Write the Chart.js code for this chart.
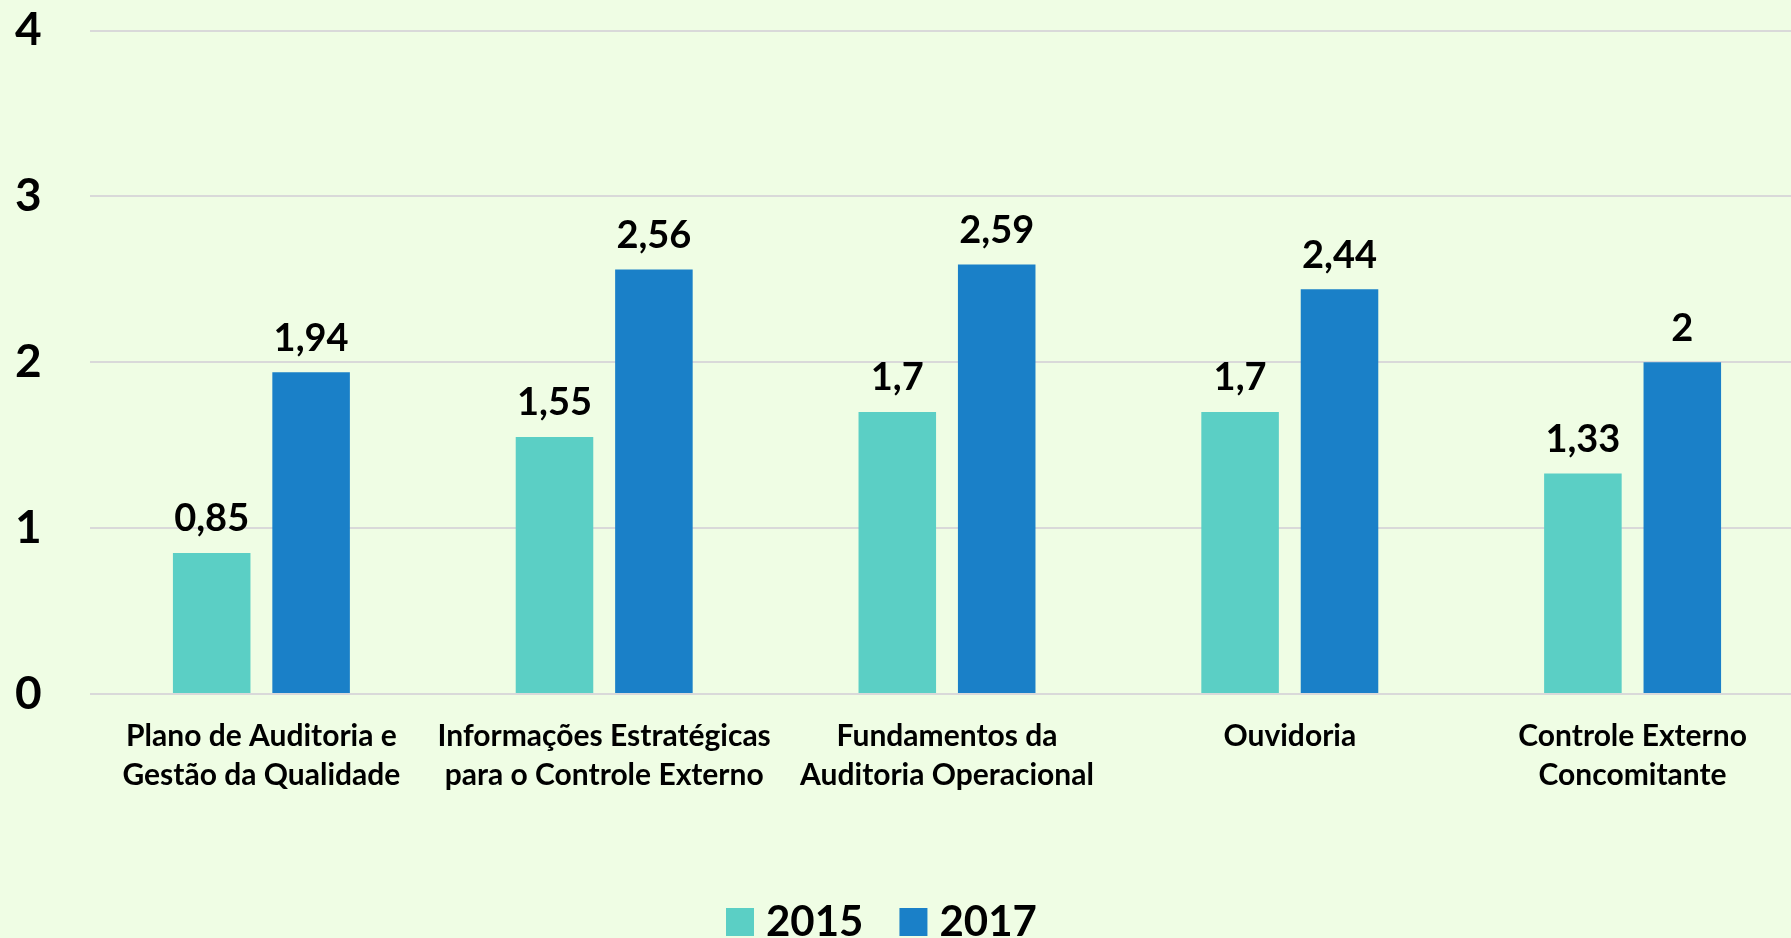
<!DOCTYPE html>
<html>
<head>
<meta charset="utf-8">
<script src="https://cdn.jsdelivr.net/npm/chart.js@4/dist/chart.umd.min.js"></script>
<style>
  html, body { margin: 0; padding: 0; background: #effde4; overflow: hidden; }
  #wrap { width: 1804px; height: 938px; position: relative; }
</style>
</head>
<body>
<div id="wrap"><canvas id="chart"></canvas></div>
<script>
const categories = [
    ['Plano de Auditoria e', 'Gestão da Qualidade'],
    ['Informações Estratégicas', 'para o Controle Externo'],
    ['Fundamentos da', 'Auditoria Operacional'],
    ['Ouvidoria'],
    ['Controle Externo', 'Concomitante']
];
const values2015 = [0.85, 1.55, 1.7, 1.7, 1.33];
const values2017 = [1.94, 2.56, 2.59, 2.44, 2];
const yTicks = [0, 1, 2, 3, 4];

const FONT = 'Lato, "Open Sans", sans-serif';

// draws the value over each bar, using the bar elements' own positions
const valueLabels = {
    id: 'valueLabels',
    afterDatasetsDraw(chart) {
        const ctx = chart.ctx;
        ctx.save();
        ctx.font = 'bold 38px ' + FONT;
        ctx.fillStyle = '#000';
        ctx.textAlign = 'center';
        ctx.textBaseline = 'middle';
        chart.data.datasets.forEach((ds, i) => {
            chart.getDatasetMeta(i).data.forEach((bar, j) => {
                const txt = String(ds.data[j]).replace('.', ',');
                ctx.fillText(txt, bar.x, bar.y - 34);
            });
        });
        ctx.restore();
    }
};

// legend at the bottom, tighter box/text gap than the built-in one
const bottomLegend = {
    id: 'bottomLegend',
    afterDraw(chart) {
        const ctx = chart.ctx;
        ctx.save();
        ctx.font = 'bold 42px ' + FONT;
        ctx.textBaseline = 'middle';
        ctx.textAlign = 'left';
        let x = 726;
        const y = 922;
        chart.data.datasets.forEach(ds => {
            ctx.fillStyle = ds.backgroundColor;
            ctx.fillRect(x, y - 14, 28, 28);
            ctx.fillStyle = '#000';
            ctx.fillText(ds.label, x + 40, y);
            x += 40 + ctx.measureText(ds.label).width + 36;
        });
        ctx.restore();
    }
};

const ctx = document.getElementById('chart').getContext('2d');
const chart = new Chart(ctx, {
    type: 'bar',
    data: {
        labels: categories,
        datasets: [{
            label: '2015',
            data: values2015,
            backgroundColor: '#5bcfc5',
            categoryPercentage: 0.58,
            barPercentage: 0.78
        }, {
            label: '2017',
            data: values2017,
            backgroundColor: '#1a80c8',
            categoryPercentage: 0.58,
            barPercentage: 0.78
        }]
    },
    options: {
        responsive: true,
        maintainAspectRatio: false,
        animation: false,
        layout: { padding: { left: 15, top: 14, right: 0, bottom: 55 } },
        plugins: {
            tooltip: { enabled: false },
            legend: { display: false }
        },
        scales: {
            x: {
                grid: { display: false },
                border: { display: false },
                afterFit(scale) {
                    scale.height = 189;
                },
                ticks: {
                    color: '#000',
                    font: { family: FONT, size: 30, weight: 'bold', lineHeight: 1.3 },
                    padding: 15,
                    maxRotation: 0
                }
            },
            y: {
                min: 0,
                max: 4,
                afterBuildTicks(scale) {
                    scale.ticks = yTicks.map(v => ({ value: v }));
                },
                afterFit(scale) {
                    scale.width = 75;
                },
                grid: { color: '#d9d9d9', lineWidth: 2, drawTicks: false },
                border: { display: false },
                ticks: {
                    color: '#000',
                    crossAlign: 'far',
                    font: { family: FONT, size: 46, weight: 'bold' }
                }
            }
        }
    },
    plugins: [valueLabels, bottomLegend]
});
</script>
</body>
</html>
